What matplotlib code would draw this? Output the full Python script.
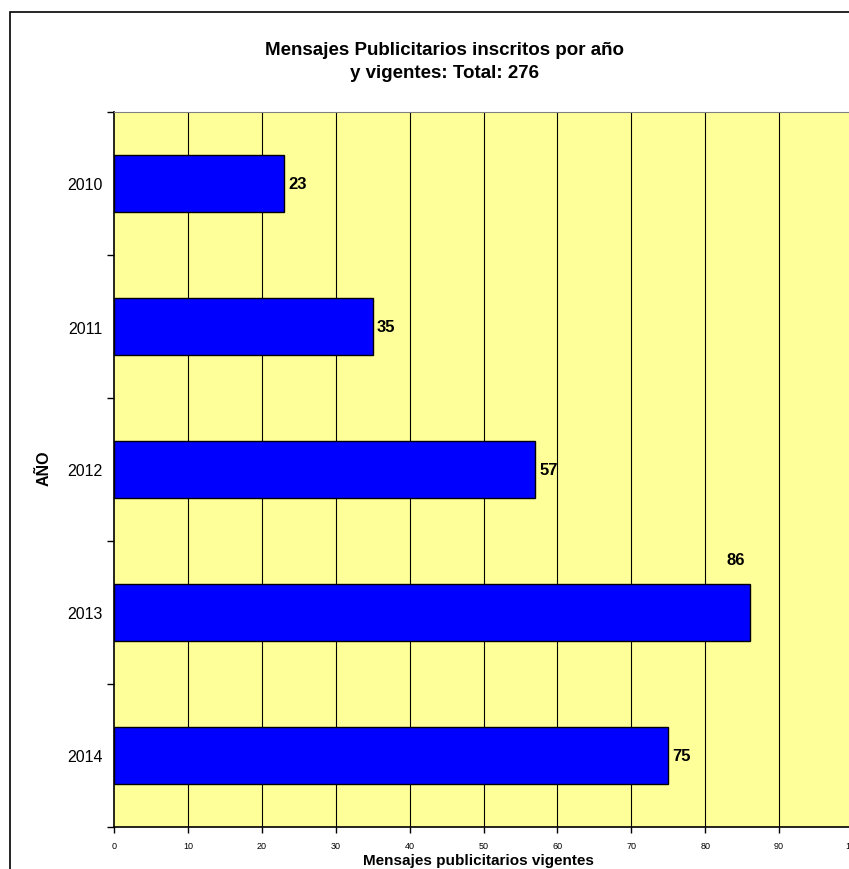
import numpy as np
import matplotlib
matplotlib.use('Agg')
import matplotlib.pyplot as plt
from matplotlib.patches import Rectangle

plt.rcParams['font.family'] = ['Liberation Sans', 'DejaVu Sans']

# datos
anios = ['2010', '2011', '2012', '2013', '2014']
mensajes = [23, 35, 57, 86, 75]
total = 276
x_ticks = list(range(0, 101, 10))

W, H = 849, 870
fig = plt.figure(figsize=(W / 100, H / 100), dpi=100)

# borde del área del gráfico (recortado a la derecha y abajo)
fig.patches.append(Rectangle((10 / W, -0.1), 1.2, 1 - 13 / H + 0.1,
                             transform=fig.transFigure, fill=False,
                             ec='black', lw=1.2))

ax = fig.add_axes([114 / W, 42 / H, (853 - 114) / W, (757 - 42) / H])
ax.set_facecolor('#FFFF99')

y = np.arange(len(anios))
ax.barh(y, mensajes, height=0.4, color='#0000FF', edgecolor='black', lw=1)
ax.set_ylim(len(anios) - 0.5, -0.5)
ax.set_xlim(0, 100)

# rejilla vertical
for xv in x_ticks[1:]:
    ax.axvline(xv, color='black', lw=0.8, zorder=0.5)

# etiquetas de valor
for i, v in enumerate(mensajes):
    if v == 86:
        ax.text(84.2, i - 0.37, str(v), ha='center', va='center',
                fontsize=12, fontweight='bold')
    else:
        ax.text(v + 0.6, i, str(v), ha='left', va='center',
                fontsize=12, fontweight='bold')

ax.set_xticks(x_ticks)
ax.set_xticklabels([str(t) for t in x_ticks], fontsize=6.5)
ax.tick_params(axis='x', direction='out', length=4, width=1, pad=6)

ax.set_yticks(np.arange(-0.5, len(anios), 1.0))
ax.set_yticklabels([])
ax.set_yticks(y, minor=True)
ax.set_yticklabels(anios, minor=True, fontsize=11.5)
ax.tick_params(axis='y', which='major', direction='out', length=5, width=1)
ax.tick_params(axis='y', which='minor', length=0, pad=8)

for s in ['left', 'bottom']:
    ax.spines[s].set_color('black')
    ax.spines[s].set_linewidth(1.2)
ax.spines['top'].set_color('#808080')
ax.spines['right'].set_visible(False)

fig.text(44 / W, 1 - 468 / H, 'AÑO', rotation=90, ha='center', va='center',
         fontsize=11.5, fontweight='bold')
fig.text(478 / W, 1 - 861 / H, 'Mensajes publicitarios vigentes',
         ha='center', va='center', fontsize=11, fontweight='bold')
fig.text(444 / W, 1 - 62 / H,
         'Mensajes Publicitarios inscritos por año\ny vigentes: Total: %d' % total,
         ha='center', va='center', fontsize=13.5, fontweight='bold',
         linespacing=1.45)

fig.savefig('out.png', dpi=100)
